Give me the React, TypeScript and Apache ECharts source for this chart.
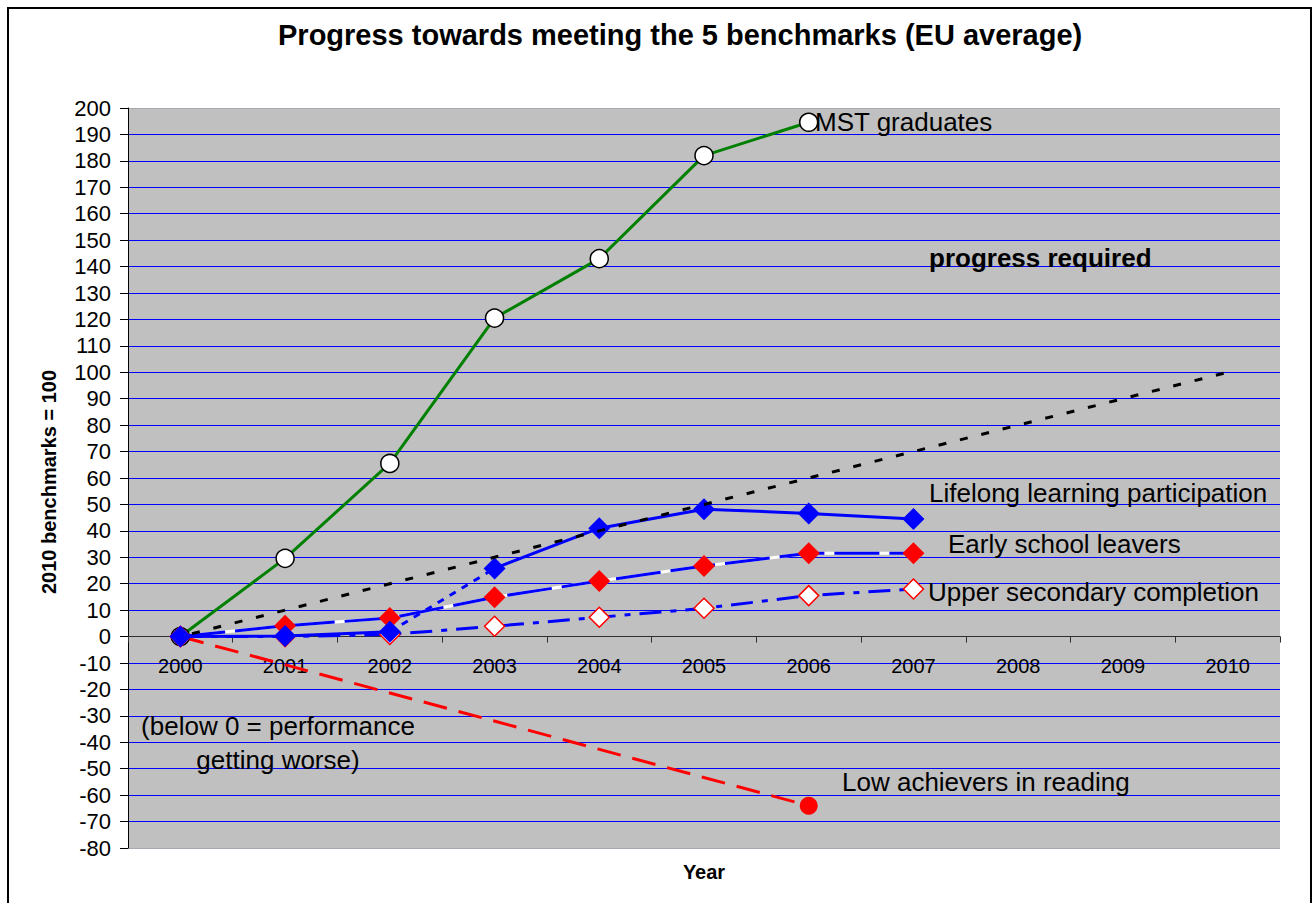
import React, { useEffect, useRef } from "react";
import * as echarts from "echarts";

const years = ["2000", "2001", "2002", "2003", "2004", "2005", "2006", "2007", "2008", "2009", "2010"];
const mstGraduates = [0, 29.6, 65.5, 120.5, 143, 182, 194.6];
const progressRequired = [0, 10, 20, 30, 40, 50, 60, 70, 80, 90, 100];
const lifelongLearning = [0, 0.2, 1.8, 25.8, 41, 48.2, 46.6, 44.5];
const earlySchoolLeavers = [0, 4.1, 7, 14.9, 21, 26.7, 31.5, 31.5];
const upperSecondary = [0, 0, 0.8, 3.9, 7.3, 10.7, 15.5, 18];
const lowAchievers: (number | string)[] = [0, "-", "-", "-", "-", "-", -64];
const yTicks = [-80, -70, -60, -50, -40, -30, -20, -10, 0, 10, 20, 30, 40, 50, 60, 70, 80, 90, 100, 110, 120, 130, 140, 150, 160, 170, 180, 190, 200];

const FONT = "'Liberation Sans', Arial, sans-serif";
const BLUE = "#0000ff";
const RED = "#ff0000";

const W = 1314;
const H = 903;
const GRID = { left: 128, right: 34, top: 108, bottom: 55 };

export default function App() {
  const ref = useRef<HTMLDivElement>(null);
  useEffect(() => {
    if (!ref.current) return;
    const chart = echarts.init(ref.current, undefined, { renderer: "svg" });
    const yMin = yTicks[0];
    const yMax = yTicks[yTicks.length - 1];
    const gridH = H - GRID.top - GRID.bottom;
    const zeroOffset = (gridH * (0 - yMin)) / (yMax - yMin);
    const gridColors = yTicks.map((t, i) => (i === 0 || i === yTicks.length - 1 ? "#a8a8b0" : BLUE));
    const txt = (text: string, x: number, y: number, size: number, bold = false, align = "left") => ({
      type: "text",
      x,
      y,
      z: 100,
      style: {
        text,
        fill: "#000",
        fontSize: size,
        fontWeight: bold ? "bold" : "normal",
        fontFamily: FONT,
        textAlign: align,
        textVerticalAlign: "middle",
      },
    });
    chart.setOption({
      animation: false,
      backgroundColor: "#fff",
      title: {
        text: "Progress towards meeting the 5 benchmarks (EU average)",
        left: 273,
        top: 15,
        textStyle: { fontSize: 29, fontWeight: "bold", fontFamily: FONT, color: "#000" },
      },
      grid: {
        ...GRID,
        show: true,
        backgroundColor: "#c0c0c0",
        borderWidth: 0,
      },
      xAxis: {
        type: "category",
        data: years,
        boundaryGap: true,
        position: "bottom",
        offset: -zeroOffset,
        axisLine: { onZero: false, lineStyle: { color: "#303030", width: 1 } },
        axisTick: { show: true, length: 6, lineStyle: { color: "#303030" } },
        axisLabel: { color: "#000", fontSize: 20, fontFamily: FONT, margin: 19 },
        splitLine: { show: false },
      },
      yAxis: {
        type: "value",
        min: yMin,
        max: yMax,
        interval: 10,
        axisLine: { show: true, lineStyle: { color: "#000", width: 1 } },
        axisTick: { show: true, length: 8, lineStyle: { color: "#000" } },
        axisLabel: { color: "#000", fontSize: 22, fontFamily: FONT, margin: 17 },
        splitLine: { show: true, lineStyle: { color: gridColors, width: 1 } },
      },
      graphic: [
        {
          type: "rect",
          shape: { x: 8, y: 8, width: 1303, height: 920 },
          style: { fill: "none", stroke: "#000", lineWidth: 2 },
          z: 100,
        },
        {
          type: "text",
          x: 49,
          y: 482,
          rotation: Math.PI / 2,
          style: {
            text: "2010 benchmarks = 100",
            fill: "#000",
            fontSize: 20,
            fontWeight: "bold",
            fontFamily: FONT,
            textAlign: "center",
            textVerticalAlign: "middle",
          },
        },
        txt("Year", 704, 872, 20, true, "center"),
        txt("MST graduates", 815, 122, 26),
        txt("progress required", 929, 258, 26, true),
        txt("Lifelong learning participation", 929, 493, 26),
        txt("Early school leavers", 948, 544, 26),
        txt("Upper secondary completion", 928, 592, 26),
        txt("(below 0 = performance", 278, 726, 26, false, "center"),
        txt("getting worse)", 278, 760, 26, false, "center"),
        txt("Low achievers in reading", 842, 782, 26),
      ],
      series: [
        {
          name: "Low achievers in reading",
          type: "line",
          connectNulls: true,
          data: lowAchievers.map((v, i) => (i === 0 ? { value: v, symbol: "none" } : v)),
          symbol: "circle",
          symbolSize: 18,
          itemStyle: { color: RED },
          lineStyle: { color: RED, width: 3, type: [24, 12] },
          z: 2,
        },
        {
          name: "MST graduates",
          type: "line",
          data: mstGraduates,
          symbol: "circle",
          symbolSize: 18,
          itemStyle: { color: "#fff", borderColor: "#000", borderWidth: 1.5 },
          lineStyle: { color: "#008000", width: 3 },
          z: 3,
        },
        {
          name: "Upper secondary completion",
          type: "line",
          data: upperSecondary,
          symbol: "diamond",
          symbolSize: 20,
          itemStyle: { color: "#fff", borderColor: RED, borderWidth: 1.5 },
          lineStyle: { color: BLUE, width: 3, type: [22, 9, 6, 9] },
          z: 4,
        },
        {
          name: "Early school leavers (base)",
          type: "line",
          data: earlySchoolLeavers,
          symbol: "none",
          lineStyle: { color: "#fff", width: 3 },
          z: 5,
        },
        {
          name: "Early school leavers",
          type: "line",
          data: earlySchoolLeavers,
          symbol: "diamond",
          symbolSize: 22,
          itemStyle: { color: RED },
          lineStyle: { color: BLUE, width: 3, type: [45, 10] },
          z: 6,
        },
        {
          name: "Lifelong learning (break)",
          type: "line",
          data: lifelongLearning.map((v, i) => (i === 2 || i === 3 ? v : "-")),
          symbol: "none",
          lineStyle: { color: BLUE, width: 3, type: [7, 7] },
          z: 7,
        },
        {
          name: "Lifelong learning participation",
          type: "line",
          data: lifelongLearning.map((v, i) => (i <= 2 ? v : "-")),
          symbol: "diamond",
          symbolSize: 22,
          itemStyle: { color: BLUE },
          lineStyle: { color: BLUE, width: 3 },
          z: 8,
        },
        {
          name: "Lifelong learning participation (2003+)",
          type: "line",
          data: lifelongLearning.map((v, i) => (i >= 3 ? v : "-")),
          symbol: "diamond",
          symbolSize: 22,
          itemStyle: { color: BLUE },
          lineStyle: { color: BLUE, width: 3 },
          z: 8,
        },
        {
          name: "progress required",
          type: "line",
          data: progressRequired,
          symbol: "none",
          lineStyle: { color: "#000", width: 3, type: [8, 14], dashOffset: -12 },
          z: 9,
        },
      ],
    });
    return () => chart.dispose();
  }, []);
  return (
    <div
      ref={ref}
      style={{ position: "fixed", left: 0, top: 0, width: W, height: H, background: "#fff" }}
    />
  );
}
